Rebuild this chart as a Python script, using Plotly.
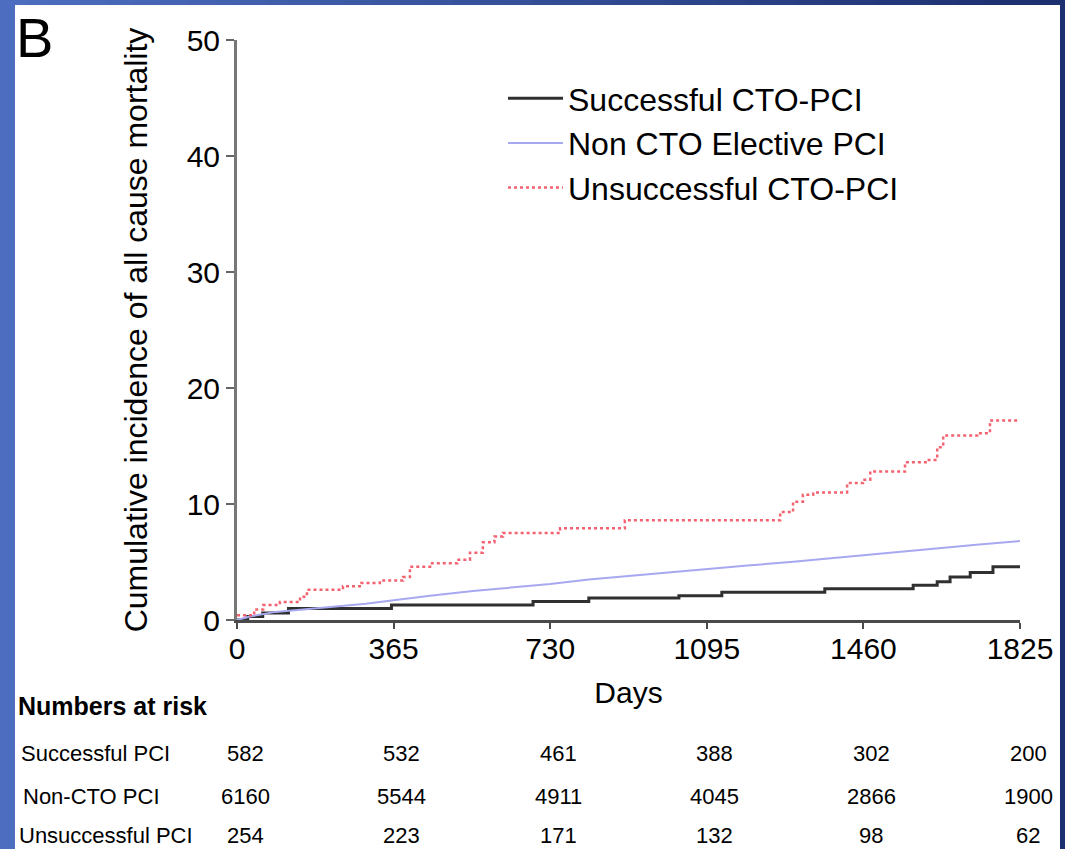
import plotly.graph_objects as go

# ---------------- data ----------------
succ_days = [0, 25, 60, 120, 360, 690, 820, 1030, 1130, 1370, 1576, 1632, 1662, 1709, 1762, 1825]
succ_vals = [0, 0.3, 0.6, 1.0, 1.3, 1.6, 1.9, 2.1, 2.4, 2.7, 3.0, 3.3, 3.7, 4.1, 4.6, 4.6]

noncto_days = [0, 30, 90, 180, 300, 365, 450, 550, 640, 730, 820, 910, 1000, 1095, 1190, 1290, 1375, 1460, 1550, 1640, 1730, 1825]
noncto_vals = [0, 0.3, 0.7, 1.0, 1.4, 1.7, 2.1, 2.5, 2.8, 3.1, 3.5, 3.8, 4.1, 4.4, 4.7, 5.0, 5.3, 5.6, 5.9, 6.2, 6.5, 6.8]

unsucc_days = [0, 40, 61, 100, 147, 163, 247, 290, 333, 387, 403, 450, 513, 543, 573, 600, 620, 753, 904,
               1266, 1296, 1319, 1343, 1422, 1459, 1476, 1557, 1608, 1632, 1646, 1725, 1755, 1820]
unsucc_vals = [0.4, 0.9, 1.3, 1.55, 2.0, 2.6, 2.9, 3.2, 3.4, 3.7, 4.6, 4.9, 5.2, 5.8, 6.7, 7.2, 7.5, 7.9, 8.6,
               9.3, 10.2, 10.8, 11.0, 11.8, 12.1, 12.8, 13.6, 13.8, 14.9, 15.9, 16.1, 17.2, 17.2]

x_ticks = [0, 365, 730, 1095, 1460, 1825]
y_ticks = [0, 10, 20, 30, 40, 50]

risk_days = [0, 365, 730, 1095, 1460, 1825]
risk_labels = ["Successful PCI", "Non-CTO PCI", "Unsuccessful PCI"]
risk_success = [582, 532, 461, 388, 302, 200]
risk_noncto = [6160, 5544, 4911, 4045, 2866, 1900]
risk_unsucc = [254, 223, 171, 132, 98, 62]

# ---------------- layout geometry (pixels) ----------------
W, H = 1065, 849
L, R, T, B = 237, 1020, 40, 620
FONT = "Liberation Sans, Arial, Helvetica, sans-serif"


def pxx(px):
    return (px - L) / (R - L)


def pxy(py):
    return (B - py) / (B - T)


fig = go.Figure()
fig.add_trace(go.Scatter(x=succ_days, y=succ_vals, mode="lines", line_shape="hv",
                         name="Successful CTO-PCI", line=dict(color="#303030", width=3)))
fig.add_trace(go.Scatter(x=noncto_days, y=noncto_vals, mode="lines",
                         name="Non CTO Elective PCI", line=dict(color="#a8a8f0", width=2)))
fig.add_trace(go.Scatter(x=unsucc_days, y=unsucc_vals, mode="lines", line_shape="hv",
                         name="Unsuccessful CTO-PCI", line=dict(color="#f2626f", width=2.5, dash="dot")))

shapes = []
# blue frame: left strip, top gradient strip, right strip
shapes.append(dict(type="rect", xref="paper", yref="paper", x0=pxx(0), x1=pxx(15), y0=pxy(H), y1=pxy(0),
                   fillcolor="#4d6ec0", line=dict(width=0), layer="below"))
c0 = (0x4d, 0x6e, 0xc0)
c1 = (0x1c, 0x2f, 0x6e)
n = 40
for i in range(n):
    t = i / (n - 1)
    col = "rgb(%d,%d,%d)" % tuple(int(c0[k] + (c1[k] - c0[k]) * t) for k in range(3))
    x0 = i * W / n
    x1 = (i + 1) * W / n + 1
    shapes.append(dict(type="rect", xref="paper", yref="paper", x0=pxx(x0), x1=pxx(x1), y0=pxy(5), y1=pxy(0),
                       fillcolor=col, line=dict(width=0), layer="below"))
shapes.append(dict(type="rect", xref="paper", yref="paper", x0=pxx(1060), x1=pxx(W), y0=pxy(H), y1=pxy(0),
                   fillcolor="#1c2f6e", line=dict(width=0), layer="below"))

annotations = []
annotations.append(dict(text="B", xref="paper", yref="paper", x=pxx(14), y=pxy(4), xanchor="left", yanchor="top",
                        showarrow=False, font=dict(family=FONT, size=56, color="black")))
annotations.append(dict(text="<b>Numbers at risk</b>", xref="paper", yref="paper", x=pxx(16), y=pxy(706),
                        xanchor="left", yanchor="middle", showarrow=False,
                        font=dict(family=FONT, size=25, color="black")))
row_y = [753, 796, 835]
row_x = [19, 21, 17]
for lab, yy, xx, vals in zip(risk_labels, row_y, row_x, [risk_success, risk_noncto, risk_unsucc]):
    annotations.append(dict(text=lab, xref="paper", yref="paper", x=pxx(xx), y=pxy(yy), xanchor="left",
                            yanchor="middle", showarrow=False, font=dict(family=FONT, size=22, color="black")))
    for d, v in zip(risk_days, vals):
        annotations.append(dict(text=str(v), xref="x", yref="paper", x=d, y=pxy(yy), xanchor="center",
                                yanchor="middle", xshift=8, showarrow=False,
                                font=dict(family=FONT, size=22, color="black")))

fig.update_layout(
    width=W, height=H,
    margin=dict(l=L, r=W - R, t=T, b=H - B, autoexpand=False),
    paper_bgcolor="white", plot_bgcolor="white",
    font=dict(family=FONT, color="black"),
    shapes=shapes, annotations=annotations,
    legend=dict(x=pxx(503), y=pxy(71), xanchor="left", yanchor="top", bgcolor="rgba(0,0,0,0)",
                font=dict(family=FONT, size=32, color="black"), tracegroupgap=0, itemwidth=55),
    showlegend=True,
)
fig.update_xaxes(range=[0, 1825], tickvals=x_ticks, ticktext=[str(v) for v in x_ticks],
                 showline=True, linecolor="#4a4a4a", linewidth=3, ticks="outside", ticklen=6, tickwidth=2,
                 tickcolor="#4a4a4a", showgrid=False, zeroline=False, tickfont=dict(family=FONT, size=30),
                 ticklabelstandoff=-6,
                 title=dict(text="Days", font=dict(family=FONT, size=30), standoff=18))
fig.update_yaxes(range=[0, 50], tickvals=y_ticks, showline=True, linecolor="#777777", linewidth=3,
                 ticks="outside", ticklen=8, tickwidth=2, tickcolor="#666666", showgrid=False, zeroline=False,
                 tickfont=dict(family=FONT, size=30),
                 title=dict(text="Cumulative incidence of all cause mortality", font=dict(family=FONT, size=32),
                            standoff=30))

fig.write_html("out.html", config={"displayModeBar": False},
               post_script="document.body.style.margin='0';document.body.style.padding='0';")
